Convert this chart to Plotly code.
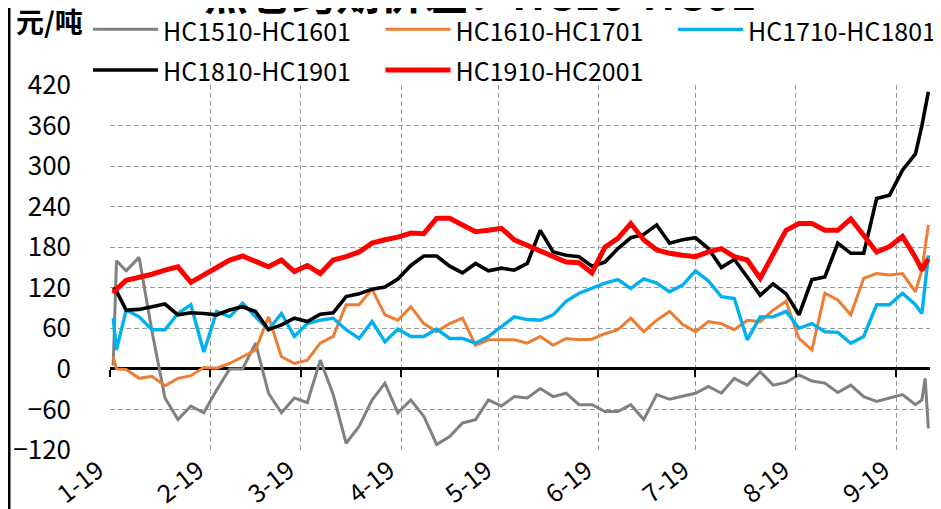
import plotly.graph_objects as go

# ---------------- data ----------------
dates = [
    "2019-01-02", "2019-01-03", "2019-01-06", "2019-01-10", "2019-01-14", "2019-01-18",
    "2019-01-22", "2019-01-26", "2019-01-30", "2019-02-03", "2019-02-07", "2019-02-11",
    "2019-02-15", "2019-02-19", "2019-02-23", "2019-02-27", "2019-03-03", "2019-03-07",
    "2019-03-11", "2019-03-15", "2019-03-19", "2019-03-23", "2019-03-27", "2019-03-31",
    "2019-04-04", "2019-04-08", "2019-04-12", "2019-04-16", "2019-04-20", "2019-04-24",
    "2019-04-28", "2019-05-02", "2019-05-06", "2019-05-10", "2019-05-14", "2019-05-18",
    "2019-05-22", "2019-05-26", "2019-05-30", "2019-06-03", "2019-06-07", "2019-06-11",
    "2019-06-15", "2019-06-19", "2019-06-23", "2019-06-27", "2019-07-01", "2019-07-05",
    "2019-07-09", "2019-07-13", "2019-07-17", "2019-07-21", "2019-07-25", "2019-07-29",
    "2019-08-02", "2019-08-06", "2019-08-10", "2019-08-14", "2019-08-18", "2019-08-22",
    "2019-08-26", "2019-08-30", "2019-09-03", "2019-09-07", "2019-09-09", "2019-09-10",
    "2019-09-11",
]

hc1510_hc1601 = [
    5, 160, 145, 165, 55, -43, -75, -55, -65, -31, 0, 0, 38, -36, -65, -43, -50, 13,
    -38, -110, -85, -46, -21, -65, -46, -70, -112, -100, -80, -75, -46, -55, -41, -43,
    -29, -41, -36, -53, -53, -63, -63, -53, -75, -38, -45, -41, -36, -26, -36, -14,
    -24, -4, -24, -20, -9, -18, -21, -35, -24, -41, -48, -43, -38, -53, -46, -14, -88,
]
hc1610_hc1701 = [
    18, 0, -1, -14, -11, -25, -14, -10, 2, 1, 8, 18, 28, 77, 18, 8, 13, 38,
    48, 95, 95, 118, 80, 72, 92, 67, 55, 67, 75, 35, 43, 43, 43, 38,
    48, 35, 45, 43, 44, 52, 58, 75, 55, 72, 85, 66, 55, 70, 67, 58,
    72, 70, 87, 100, 45, 28, 112, 102, 80, 134, 141, 139, 141, 114, 146, 180, 213,
]
hc1710_hc1801 = [
    75, 28, 87, 77, 58, 58, 82, 95, 25, 85, 77, 97, 77, 58, 82, 48, 67, 72,
    75, 58, 45, 70, 40, 59, 48, 48, 59, 45, 45, 38, 48, 63, 77, 73,
    72, 80, 100, 112, 119, 127, 132, 119, 133, 127, 114, 124, 145, 130, 107, 104,
    43, 77, 77, 85, 60, 67, 55, 54, 38, 48, 95, 95, 112, 95, 82, 130, 168,
]
hc1810_hc1901 = [
    120, 115, 87, 88, 92, 96, 80, 83, 82, 80, 87, 92, 85, 58, 65, 75, 70, 81,
    83, 107, 111, 118, 121, 133, 153, 167, 167, 152, 142, 156, 145, 149, 146, 156,
    205, 173, 168, 166, 152, 158, 178, 194, 199, 213, 186, 191, 194, 178, 150, 162,
    136, 109, 126, 111, 80, 132, 136, 186, 171, 171, 252, 257, 294, 318, 360, 385, 410,
]
hc1910_hc2001 = [
    112, 118, 131, 135, 140, 146, 151, 128, 138, 150, 161, 167, 159, 151, 161, 144, 153, 141,
    161, 166, 173, 186, 191, 195, 201, 200, 223, 223, 213, 203, 205, 208, 191, 183,
    175, 167, 158, 157, 142, 180, 193, 215, 191, 176, 171, 168, 166, 173, 178, 166,
    161, 134, 171, 205, 215, 215, 205, 205, 222, 196, 173, 181, 196, 165, 146, 155, 163,
]

series_names = ["HC1510-HC1601", "HC1610-HC1701", "HC1710-HC1801", "HC1810-HC1901", "HC1910-HC2001"]
series_values = [hc1510_hc1601, hc1610_hc1701, hc1710_hc1801, hc1810_hc1901, hc1910_hc2001]
series_colors = ["#808080", "#ED7D31", "#00B0F0", "#000000", "#FF0000"]
series_widths = [3, 3, 3.4, 3.6, 5]

month_ticks = ["2019-01-01", "2019-02-01", "2019-03-01", "2019-04-01", "2019-05-01",
               "2019-06-01", "2019-07-01", "2019-08-01", "2019-09-01"]
month_labels = ["1-19", "2-19", "3-19", "4-19", "5-19", "6-19", "7-19", "8-19", "9-19"]
y_ticks = [-120, -60, 0, 60, 120, 180, 240, 300, 360, 420]

title_text = "热卷跨期价差：HC10-HC01"
unit_text = "元/吨"

FONT = "Noto Sans CJK SC, Noto Sans, sans-serif"

# plot-area geometry in pixels (used to place the outside texts)
W, H = 941, 509
ML, MR, MT, MB = 102, 19, 77, 67
PW, PH = W - ML - MR, H - MT - MB


def px_x(p):
    return (p - ML) / PW


def px_y(p):
    return 1 + (MT - p) / PH


fig = go.Figure()
for name, vals, col, w in zip(series_names, series_values, series_colors, series_widths):
    fig.add_trace(go.Scatter(
        x=dates, y=vals, mode="lines", line=dict(color=col, width=w),
        name="<span style='font-size:25px'>" + name + "</span>"))

# invisible helper trace so the tick-only axis at y=0 is drawn
fig.add_trace(go.Scatter(x=[dates[0]], y=[0], xaxis="x2", mode="markers",
                         marker=dict(opacity=0), showlegend=False, hoverinfo="skip"))

grid = dict(showgrid=True, gridcolor="#9a9a9a", gridwidth=1, griddash="5px,3px")

fig.update_layout(
    template="none",
    width=W, height=H, autosize=False,
    margin=dict(l=ML, r=MR, t=MT, b=MB, autoexpand=False),
    plot_bgcolor="white", paper_bgcolor="white",
    font=dict(family=FONT, color="black"),
    xaxis=dict(type="date", range=["2019-01-01", "2019-09-11 12:00"],
               tickvals=month_ticks, ticktext=month_labels, tickangle=-38,
               tickfont=dict(size=25, family=FONT), ticks="", showline=False,
               ticklabelshift=-12, zeroline=False, automargin=False, **grid),
    xaxis2=dict(type="date", overlaying="x", matches="x", anchor="free",
                position=120 / 540, side="bottom", tickvals=month_ticks,
                ticks="outside", ticklen=7, tickwidth=2, tickcolor="black",
                showticklabels=False, showgrid=False, showline=False, zeroline=False,
                automargin=False),
    yaxis=dict(range=[-120, 420], tickvals=y_ticks, tickfont=dict(size=26, family=FONT),
               ticks="", ticklabelstandoff=38, showline=False, automargin=False,
               zeroline=True, zerolinecolor="black", zerolinewidth=2.6, **grid),
    showlegend=True,
    legend=dict(orientation="h", x=px_x(80), xanchor="left", y=px_y(-4), yanchor="top",
                entrywidth=292.5 - 80, entrywidthmode="pixels", itemwidth=65,
                font=dict(size=29, family=FONT), bgcolor="rgba(0,0,0,0)",
                traceorder="normal", borderwidth=0),
    annotations=[
        dict(text=title_text, xref="paper", yref="paper", x=px_x(472), y=px_y(17),
             xanchor="center", yanchor="bottom", showarrow=False,
             font=dict(size=44, family=FONT, weight=700)),
        dict(text=unit_text, xref="paper", yref="paper", x=px_x(6),
             y=px_y(13), xanchor="left", yanchor="middle", showarrow=False,
             font=dict(size=28, family=FONT, weight=700)),
    ],
    shapes=[
        dict(type="line", xref="paper", yref="paper", x0=px_x(1), x1=px_x(1),
             y0=px_y(0), y1=px_y(H), line=dict(color="black", width=3), layer="above"),
    ],
)

fig.write_html("out.html")
